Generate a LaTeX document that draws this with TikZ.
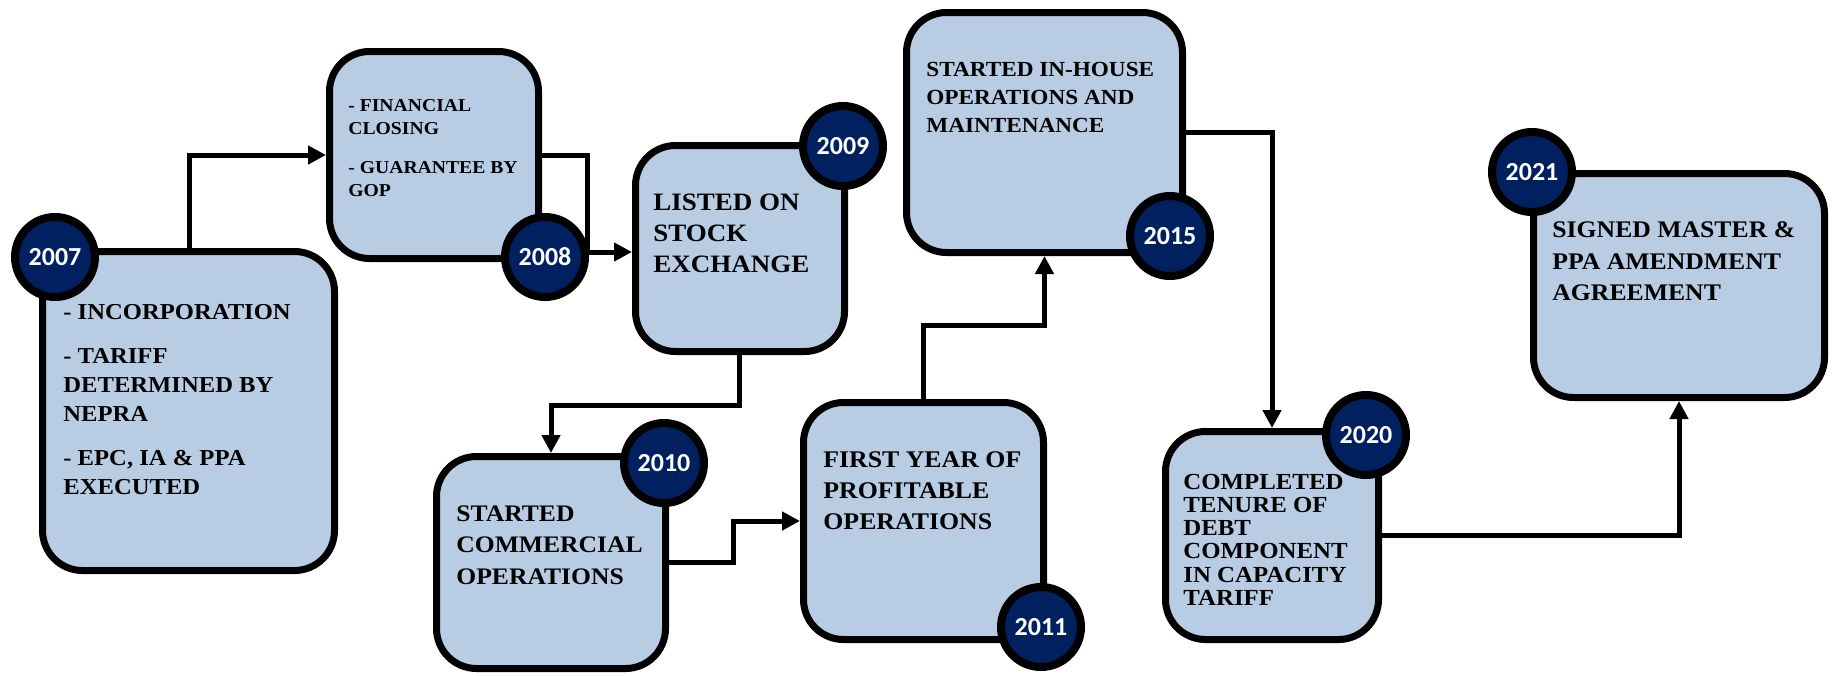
\documentclass[tikz,border=0pt]{standalone}
\usepackage{fontspec}
\newfontfamily\garfont[FakeStretch=1.08]{Liberation Serif}
\newfontfamily\yearfont{Carlito}
\usetikzlibrary{arrows.meta}
\definecolor{boxblue}{HTML}{B8CCE4}
\definecolor{navyc}{HTML}{002060}
\tikzset{
  evbox/.style={rectangle, draw=black, line width=3.5pt, fill=boxblue, rounded corners=20pt, inner sep=0pt},
  yearc/.style={circle, draw=black, line width=4pt, fill=navyc, minimum size=40pt, inner sep=0pt, text=white, font={\yearfont\bfseries\fontsize{13}{13}\selectfont}},
  conn/.style={draw=black, line width=2.5pt, -{Triangle[length=9pt,width=9pt]}},
  evtext/.style={anchor=base west, inner sep=0pt, font={\garfont\bfseries}}
}
\begin{document}
\begin{tikzpicture}[x=0.5pt,y=-0.5pt]
\fill[white] (0,0) rectangle (1837,675);
\useasboundingbox (0,0) rectangle (1837,675);
% boxes
\node[evbox, minimum width=146pt, minimum height=159.5pt] (b2007) at (188.5,411) {};
\node[evbox, minimum width=104.5pt, minimum height=103.5pt] (b2008) at (434,155) {};
\node[evbox, minimum width=104.5pt, minimum height=103pt] (b2009) at (740,248.5) {};
\node[evbox, minimum width=114.5pt, minimum height=106pt] (b2010) at (551,562.5) {};
\node[evbox, minimum width=120pt, minimum height=118.5pt] (b2011) at (923.5,521) {};
\node[evbox, minimum width=138pt, minimum height=120pt] (b2015) at (1044.5,132.5) {};
\node[evbox, minimum width=106.5pt, minimum height=104pt] (b2020) at (1272,535.5) {};
\node[evbox, minimum width=145.5pt, minimum height=112pt] (b2021) at (1679,285.5) {};
% connectors
\draw[conn] (b2007.north -| 189,0) |- (b2008.west);
\draw[conn] (b2008.east) -| (587,252) -- (b2009.west |- 587,252);
\draw[conn] (b2009.south -| 739,0) |- (b2010.north |- 0,405) -- (b2010.north);
\draw[conn] (b2010.east) -| (733,521) -- (b2011.west);
\draw[conn] (b2011.north) |- (b2015.south |- 0,325) -- (b2015.south);
\draw[conn] (b2015.east) -| (b2020.north);
\draw[conn] (b2020.east) -| (b2021.south);
% year circles
\node[yearc] (c2007) at (55,257) {2007};
\node[yearc] (c2008) at (545,257) {2008};
\node[yearc] (c2009) at (843,146) {2009};
\node[yearc] (c2010) at (664,463) {2010};
\node[yearc] (c2011) at (1041,627) {2011};
\node[yearc] (c2015) at (1170,236) {2015};
\node[yearc] (c2020) at (1366,435) {2020};
\node[yearc] (c2021) at (1532,172) {2021};
% texts
\node[evtext] (t2007) at (63,319) {\parbox[t]{200pt}{\fontsize{11.4}{14.5}\selectfont - INCORPORATION\\[7.5pt]- TARIFF\\DETERMINED BY\\NEPRA\\[7.5pt]- EPC, IA \& PPA\\EXECUTED}};
\node[evtext] (t2008) at (348,111) {\parbox[t]{200pt}{\fontsize{9.1}{11.75}\selectfont - FINANCIAL\\CLOSING\\[7.5pt]- GUARANTEE BY\\GOP}};
\node[evtext] (t2009) at (653,210) {\parbox[t]{200pt}{\fontsize{12.5}{15.5}\selectfont LISTED ON\\STOCK\\EXCHANGE}};
\node[evtext] (t2010) at (456,521) {\parbox[t]{200pt}{\fontsize{11.85}{15.75}\selectfont STARTED\\COMMERCIAL\\OPERATIONS}};
\node[evtext] (t2011) at (823,467) {\parbox[t]{200pt}{\fontsize{11.95}{15.5}\selectfont FIRST YEAR OF\\PROFITABLE\\OPERATIONS}};
\node[evtext] (t2015) at (926,76) {\parbox[t]{200pt}{\fontsize{10.75}{14}\selectfont STARTED IN-HOUSE\\OPERATIONS AND\\MAINTENANCE}};
\node[evtext] (t2020) at (1183,489) {\parbox[t]{200pt}{\fontsize{11.5}{11.65}\selectfont COMPLETED\\TENURE OF\\DEBT\\COMPONENT\\IN CAPACITY\\TARIFF}};
\node[evtext] (t2021) at (1552,237.5) {\parbox[t]{200pt}{\fontsize{11.9}{15.75}\selectfont SIGNED MASTER \&\\PPA AMENDMENT\\AGREEMENT}};
\end{tikzpicture}
\end{document}
